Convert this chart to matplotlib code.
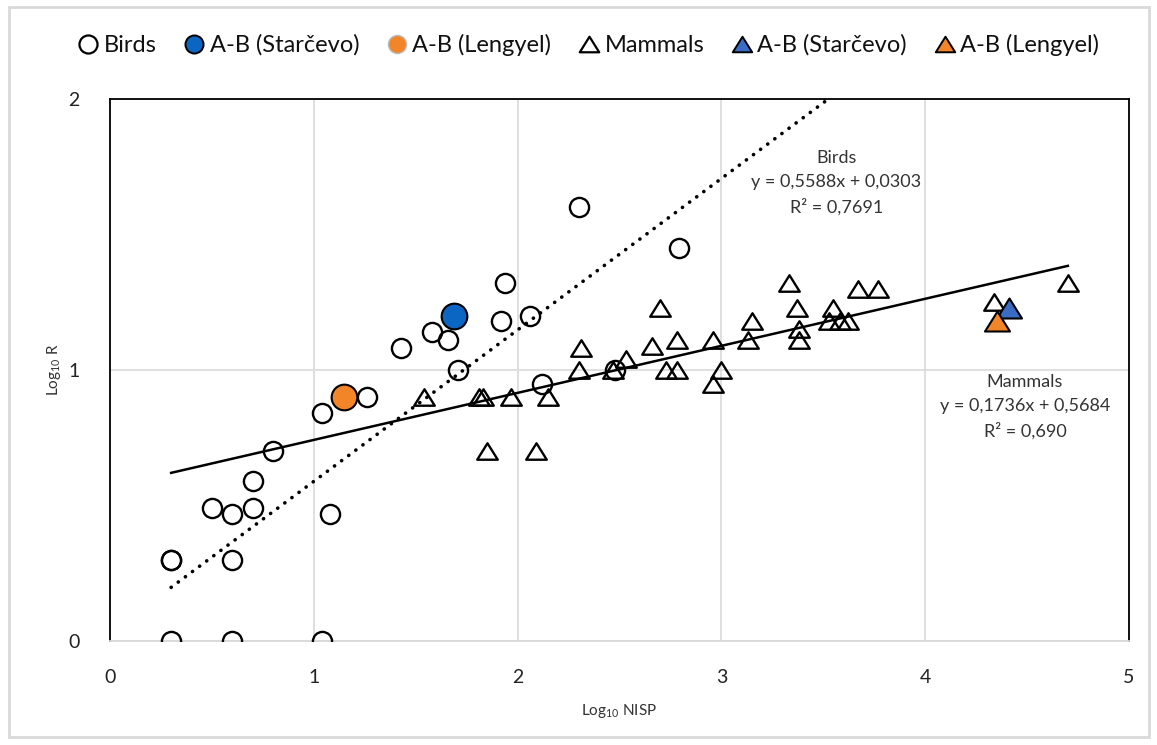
import numpy as np
import matplotlib
matplotlib.use('Agg')
import matplotlib.pyplot as plt
from matplotlib.lines import Line2D
from matplotlib.path import Path
from matplotlib.patches import Rectangle

plt.rcParams['font.family'] = ['Lato', 'DejaVu Sans']
plt.rcParams['mathtext.default'] = 'regular'

# Data (log10 NISP, log10 R)
birds_x = [0.30, 0.60, 1.04, 0.30, 0.30, 0.60, 0.50, 0.60, 0.70, 0.70, 1.08, 0.80,
           1.04, 1.26, 1.43, 1.58, 1.66, 1.71, 1.92, 1.94, 2.06, 2.12, 2.30, 2.48, 2.79]
birds_y = [0.00, 0.00, 0.00, 0.30, 0.30, 0.30, 0.49, 0.47, 0.49, 0.59, 0.47, 0.70,
           0.84, 0.90, 1.08, 1.14, 1.11, 1.00, 1.18, 1.32, 1.20, 0.95, 1.60, 1.00, 1.45]
birds_starcevo = (1.69, 1.20)
birds_lengyel = (1.15, 0.90)

mammals_x = [1.54, 1.81, 1.83, 1.97, 2.15, 1.85, 2.09, 2.31, 2.30, 2.47, 2.53, 2.66,
             2.70, 2.73, 2.78, 2.78, 2.96, 3.00, 2.96, 3.15, 3.13, 3.33, 3.37, 3.38,
             3.38, 3.55, 3.53, 3.62, 3.58, 3.67, 3.77, 4.34, 4.70]
mammals_y = [0.90, 0.90, 0.90, 0.90, 0.90, 0.70, 0.70, 1.08, 1.00, 1.00, 1.04, 1.09,
             1.23, 1.00, 1.00, 1.11, 1.11, 1.00, 0.95, 1.18, 1.11, 1.32, 1.23, 1.15,
             1.11, 1.23, 1.18, 1.18, 1.18, 1.30, 1.30, 1.25, 1.32]
mammals_starcevo = (4.41, 1.23)
mammals_lengyel = (4.35, 1.18)

# trend lines (Excel fits as printed on the chart)
birds_fit = (0.5588, 0.0303)
mammals_fit = (0.1736, 0.5684)
birds_label = 'Birds\ny = 0,5588x + 0,0303\nR² = 0,7691'
mammals_label = 'Mammals\ny = 0,1736x + 0,5684\nR² = 0,690'

blue_c = '#0A66C2'
blue_t = '#3A6CC6'
orange = '#F28527'

# wide Excel-like triangle
tri = Path([(0, 0.8), (-1, -0.8), (1, -0.8), (0, 0.8)],
           [Path.MOVETO, Path.LINETO, Path.LINETO, Path.CLOSEPOLY])

fig = plt.figure(figsize=(11.57, 7.45), dpi=100)
ax = fig.add_axes([110/1157, 1-641/745, 1019/1157, 542/745])

# trend lines
x_start = min(birds_x)
xb = np.array([x_start, (2 - birds_fit[1]) / birds_fit[0]])
ax.plot(xb, birds_fit[0]*xb + birds_fit[1], color='black', lw=2.6,
        linestyle=(0, (0.05, 2.4)), dash_capstyle='round', zorder=2)
xm = np.array([x_start, max(mammals_x)])
ax.plot(xm, mammals_fit[0]*xm + mammals_fit[1], color='black', lw=1.8, zorder=2)

ms = 13.8
ax.plot(birds_x, birds_y, 'o', ms=ms, mfc='none', mec='black', mew=1.7, zorder=3)
ax.plot(mammals_x, mammals_y, ls='none', marker=tri, ms=ms+1, mfc='none', mec='black', mew=1.7, zorder=3)
ax.plot(*birds_starcevo, 'o', ms=18.5, mfc=blue_c, mec='black', mew=1.5, zorder=4)
ax.plot(*birds_lengyel, 'o', ms=18.5, mfc=orange, mec='black', mew=1.5, zorder=4)
ax.plot(*mammals_starcevo, ls='none', marker=tri, ms=18, mfc=blue_t, mec='black', mew=1.5, zorder=4)
ax.plot(*mammals_lengyel, ls='none', marker=tri, ms=18, mfc=orange, mec='black', mew=1.5, zorder=5)

ax.set_xlim(0, 5)
ax.set_ylim(0, 2)
ax.set_xticks([0, 1, 2, 3, 4, 5])
ax.set_yticks([0, 1, 2])
ax.grid(True, color='#d9d9d9', lw=1.2)
ax.set_axisbelow(True)
ax.tick_params(length=0, labelsize=14, colors='#222222')
ax.tick_params(axis='x', pad=20)
ax.tick_params(axis='y', pad=22)
for s in ['left', 'top', 'right']:
    ax.spines[s].set_color('black')
    ax.spines[s].set_linewidth(1.3)
ax.spines['bottom'].set_color('#d9d9d9')
ax.spines['bottom'].set_linewidth(1.3)

ax.set_xlabel('Log$_{10}$ NISP', fontsize=11, color='#333333', labelpad=12)
ax.set_ylabel('Log$_{10}$ R', fontsize=11, color='#333333', labelpad=4)

ax.text(3.565, 1.69, birds_label, ha='center', va='center', fontsize=13,
        color='#333333', linespacing=1.6)
ax.text(4.49, 0.864, mammals_label, ha='center', va='center', fontsize=13,
        color='#333333', linespacing=1.6)

handles = [
    Line2D([], [], ls='none', marker='o', ms=13, mfc='none', mec='black', mew=1.6),
    Line2D([], [], ls='none', marker='o', ms=13, mfc=blue_c, mec='black', mew=1.4),
    Line2D([], [], ls='none', marker='o', ms=13, mfc=orange, mec='#bbbbbb', mew=1.0),
    Line2D([], [], ls='none', marker=tri, ms=14, mfc='none', mec='black', mew=1.6),
    Line2D([], [], ls='none', marker=tri, ms=14, mfc=blue_t, mec='black', mew=1.4),
    Line2D([], [], ls='none', marker=tri, ms=14, mfc=orange, mec='black', mew=1.4),
]
labels = ['Birds', 'A-B (Starčevo)', 'A-B (Lengyel)', 'Mammals', 'A-B (Starčevo)', 'A-B (Lengyel)']
fig.legend(handles, labels, loc='center', bbox_to_anchor=(0.509, 1-45/745), ncol=6,
           frameon=False, fontsize=17, handlelength=0.8, handletextpad=0.25,
           columnspacing=1.2, labelcolor='#111111')

fig.patches.append(Rectangle((9/1157, 8/745), 1140/1157, 730/745, transform=fig.transFigure,
                             fill=False, ec='#d9d9d9', lw=2))

fig.savefig('out.png', dpi=100)
